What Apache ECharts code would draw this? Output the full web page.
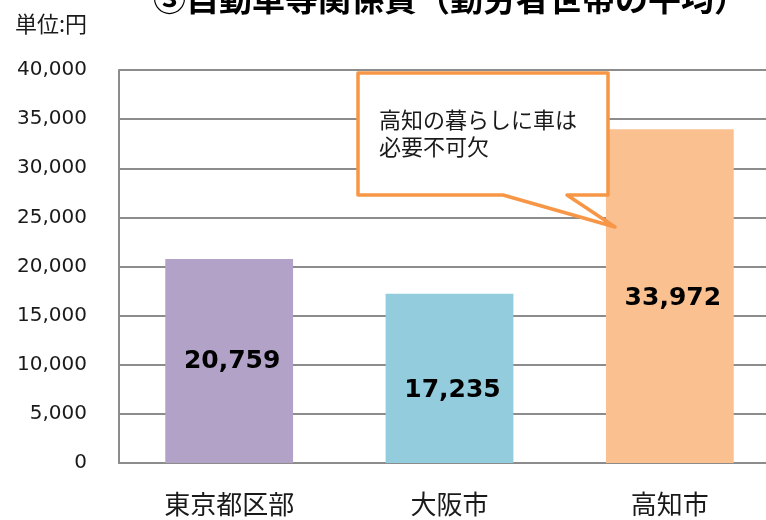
<!DOCTYPE html>
<html>
<head>
<meta charset="utf-8">
<script src="https://cdn.jsdelivr.net/npm/echarts@6/dist/echarts.min.js"></script>
<style>
  html, body { margin: 0; padding: 0; background: #fff; overflow: hidden; }
  /* plot runs past the right edge in the original, so the canvas is a bit wider than the window */
  #chart { width: 780px; height: 520px; }
</style>
</head>
<body>
<div id="chart"></div>
<script>
// data
var cities = ["東京都区部", "大阪市", "高知市"];
var costs = [20759, 17235, 33972];
var barColors = ["#B3A2C7", "#93CDDD", "#FAC090"];
var labelShift = [0, 12, 2];
var yTicks = [0, 5000, 10000, 15000, 20000, 25000, 30000, 35000, 40000];

var titleText = "③自動車等関係費（勤労者世帯の平均）";
var unitText = "単位:円";
var noteText = "高知の暮らしに車は\n必要不可欠";

var gridColor = "#8C8C8C";
var jpFont = "'Noto Sans CJK JP', sans-serif";
var numFont = "'DejaVu Sans', Verdana, sans-serif";

function fmt(v) {
  return v.toString().replace(/\B(?=(\d{3})+(?!\d))/g, ",");
}

var chart = echarts.init(document.getElementById("chart"));

var option = {
  animation: false,
  grid: { left: 119, right: 0, top: 70, bottom: 57, containLabel: false },
  xAxis: {
    type: "category",
    data: cities,
    axisLine: { show: true, lineStyle: { color: gridColor, width: 2 } },
    axisTick: { show: false },
    axisLabel: {
      color: "#1a1a1a",
      fontSize: 26,
      fontFamily: jpFont,
      margin: 28
    }
  },
  yAxis: {
    type: "value",
    min: yTicks[0],
    max: yTicks[yTicks.length - 1],
    interval: 5000,
    axisLine: { show: true, lineStyle: { color: gridColor, width: 2 } },
    axisTick: { show: false },
    splitLine: { lineStyle: { color: gridColor, width: 2 } },
    axisLabel: {
      color: "#1a1a1a",
      fontSize: 20,
      fontFamily: numFont,
      margin: 32,
      formatter: function (v) { return fmt(v); }
    }
  },
  series: [
    {
      type: "bar",
      barWidth: "58%",
      data: costs.map(function (v, i) {
        return {
          value: v,
          itemStyle: { color: barColors[i] },
          label: { offset: [3, labelShift[i]] }
        };
      }),
      label: {
        show: true,
        position: "inside",
        color: "#000",
        fontSize: 25,
        fontWeight: "bold",
        fontFamily: numFont,
        formatter: function (p) { return fmt(p.value); }
      }
    }
  ],
  graphic: [
    {
      type: "text",
      left: 153,
      top: -18,
      style: {
        text: titleText,
        font: "bold 33px " + jpFont,
        fill: "#000"
      }
    },
    {
      type: "text",
      left: 15,
      top: 13,
      style: {
        text: unitText,
        font: "22px " + jpFont,
        fill: "#1a1a1a"
      }
    },
    {
      // speech bubble pointing at the 高知市 bar
      type: "polygon",
      shape: {
        points: [[358, 73], [608, 73], [608, 195], [567, 195], [615, 227], [503, 195], [358, 195]]
      },
      style: { fill: "#fff", stroke: "#F79646", lineWidth: 3.5, lineJoin: "round" },
      z: 10
    },
    {
      type: "text",
      left: 379,
      top: 106,
      z: 11,
      style: {
        text: noteText,
        font: "22px " + jpFont,
        lineHeight: 27,
        fill: "#1a1a1a"
      }
    }
  ]
};

chart.setOption(option);
</script>
</body>
</html>
